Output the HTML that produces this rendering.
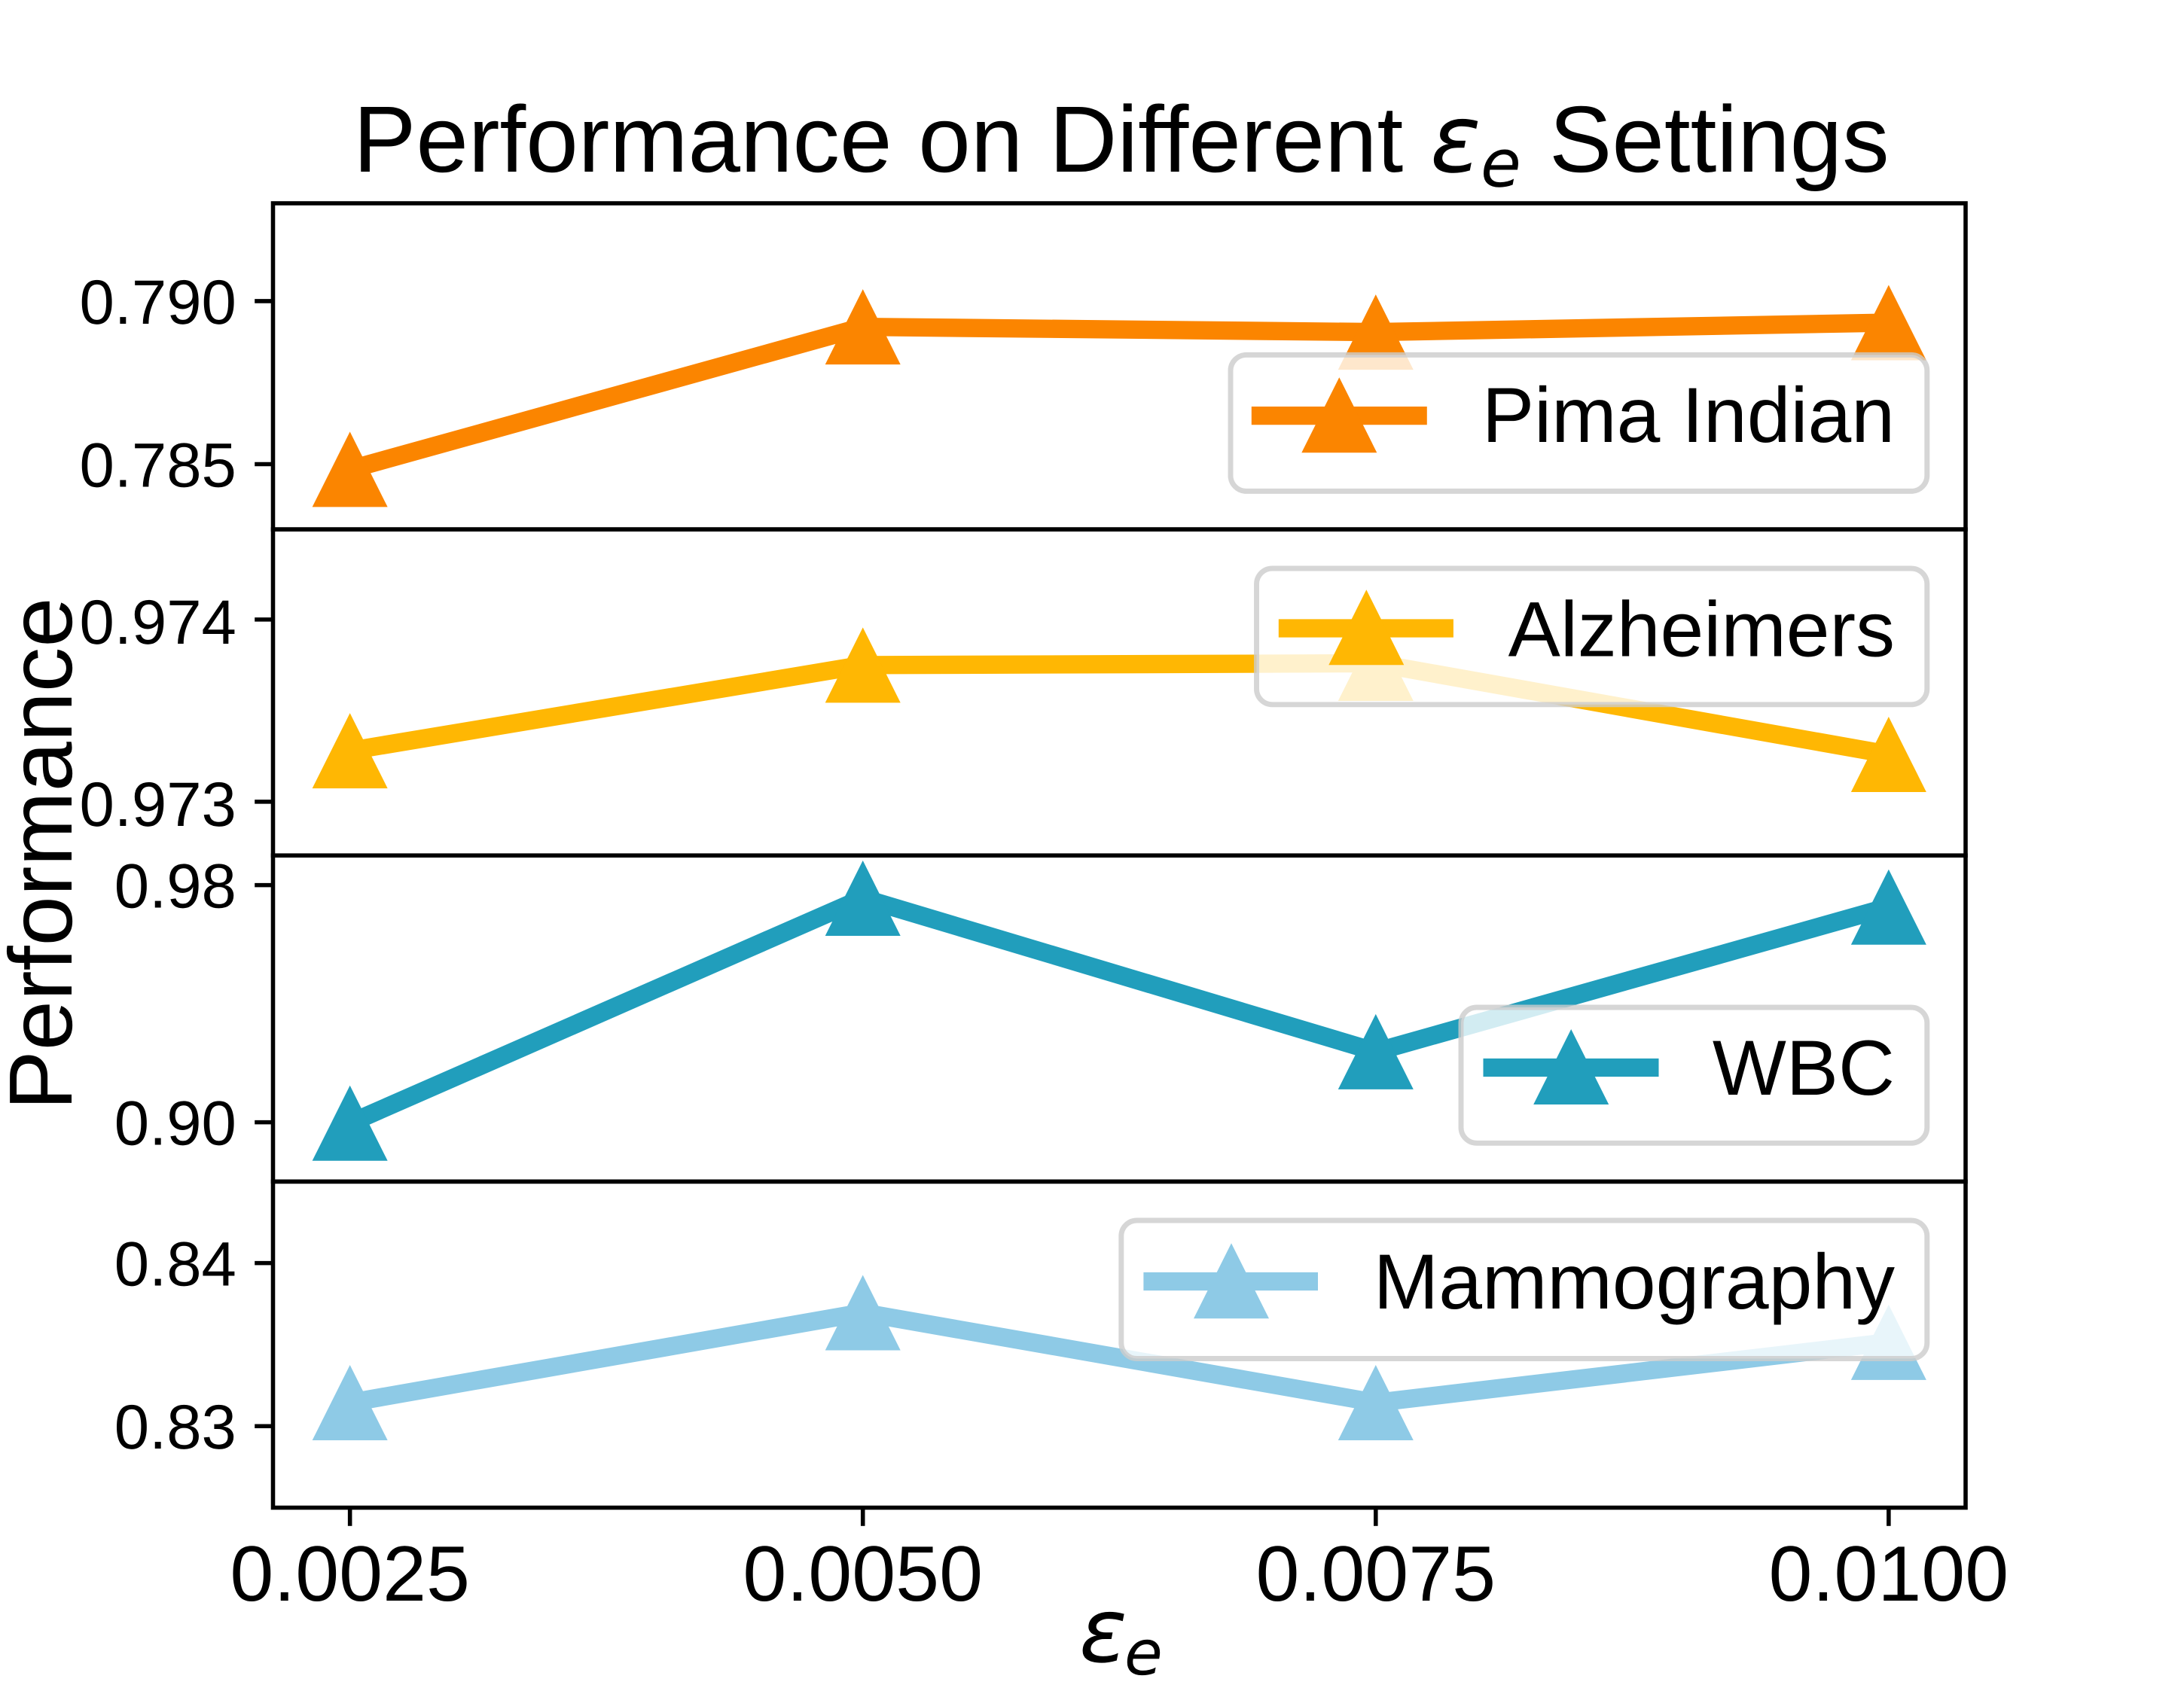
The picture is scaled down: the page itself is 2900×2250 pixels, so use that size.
<!DOCTYPE html>
<html lang="en">
<head>
<meta charset="utf-8">
<title>Performance on Different ε_e Settings</title>
<style>
html,body{margin:0;padding:0;background:#fff;width:2900px;height:2250px;overflow:hidden}
svg{display:block}
text{font-family:"Liberation Sans",sans-serif;fill:#000;text-rendering:geometricPrecision}
.math{font-family:"DejaVu Sans",sans-serif;font-style:italic}
</style>
</head>
<body>
<svg id="chart" xmlns="http://www.w3.org/2000/svg" width="2900" height="2250" viewBox="0 0 2900 2250">
  <rect x="0" y="0" width="2900" height="2250" fill="#fff"/>
  <g id="marks"></g>
  <g id="ticks"></g>
  <g fill="none" stroke="#000" stroke-width="5.56">
    <rect x="362.5" y="270" width="2247.5" height="433.125"/>
    <rect x="362.5" y="703.125" width="2247.5" height="433.125"/>
    <rect x="362.5" y="1136.25" width="2247.5" height="433.125"/>
    <rect x="362.5" y="1569.375" width="2247.5" height="433.125"/>
  </g>

  <g>
    <rect x="1634" y="471.4" width="924.8" height="181" rx="20.8" ry="20.8" fill="#fff" fill-opacity="0.8" stroke="#ccc" stroke-opacity="0.8" stroke-width="6.94"/>
    <line x1="1661.8" y1="552.1" x2="1894.8" y2="552.1" stroke="#fb8500" stroke-width="24.3"/>
    <path d="M1728.3 601.2L1778.3 501.2L1828.3 601.2Z" fill="#fb8500"/>
    <text x="2516" y="587.2" font-size="103.8" text-anchor="end">Pima Indian</text>
  </g>
  <g>
    <rect x="1668.5" y="755" width="890.3" height="180.8" rx="20.8" ry="20.8" fill="#fff" fill-opacity="0.8" stroke="#ccc" stroke-opacity="0.8" stroke-width="6.94"/>
    <line x1="1697.8" y1="834.5" x2="1929.9" y2="834.5" stroke="#ffb703" stroke-width="24.3"/>
    <path d="M1764.3 883.2L1814.3 783.2L1864.3 883.2Z" fill="#ffb703"/>
    <text x="2516" y="871.3" font-size="103.8" text-anchor="end">Alzheimers</text>
  </g>
  <g>
    <rect x="1940" y="1338" width="618.8" height="180.3" rx="20.8" ry="20.8" fill="#fff" fill-opacity="0.8" stroke="#ccc" stroke-opacity="0.8" stroke-width="6.94"/>
    <line x1="1969.5" y1="1418" x2="2202.5" y2="1418" stroke="#219ebc" stroke-width="24.3"/>
    <path d="M2036.2 1467L2086.2 1367L2136.2 1467Z" fill="#219ebc"/>
    <text x="2516" y="1453.8" font-size="103.8" text-anchor="end">WBC</text>
  </g>
  <g>
    <rect x="1488.8" y="1621" width="1070" height="183.5" rx="20.8" ry="20.8" fill="#fff" fill-opacity="0.8" stroke="#ccc" stroke-opacity="0.8" stroke-width="6.94"/>
    <line x1="1518.4" y1="1702" x2="1750" y2="1702" stroke="#8ecae6" stroke-width="24.3"/>
    <path d="M1585 1751.2L1635 1651.2L1685 1751.2Z" fill="#8ecae6"/>
    <text x="2516" y="1737.9" font-size="103.8" text-anchor="end">Mammography</text>
  </g>

  <g>
    <text x="469" y="228" font-size="125">Performance on Different</text>
    <text class="math" x="1899" y="228" font-size="125">ε</text>
    <text class="math" x="1966" y="247.5" font-size="87.5">e</text>
    <text x="2057" y="228" font-size="125">Settings</text>
  </g>
  <text transform="translate(95.2 1134) rotate(-90)" font-size="119" text-anchor="middle">Performance</text>
  <g>
    <text class="math" x="1433" y="2207" font-size="118">ε</text>
    <text class="math" x="1493" y="2224" font-size="82.6">e</text>
  </g>
</svg>
<script>
var categories = [0.0025, 0.005, 0.0075, 0.01];
var xTickLabels = ['0.0025', '0.0050', '0.0075', '0.0100'];

var pimaValues = [0.78484, 0.78921, 0.78905, 0.78934];
var alzheimersValues = [0.97328, 0.97375, 0.97376, 0.97326];
var wbcValues = [0.8997, 0.9756, 0.9238, 0.9726];
var mammographyValues = [0.83144, 0.83696, 0.83144, 0.83514];

var pimaTicks = [0.79, 0.785];
var alzheimersTicks = [0.974, 0.973];
var wbcTicks = [0.98, 0.9];
var mammographyTicks = [0.84, 0.83];

var pimaTickLabels = ['0.790', '0.785'];
var alzheimersTickLabels = ['0.974', '0.973'];
var wbcTickLabels = ['0.98', '0.90'];
var mammographyTickLabels = ['0.84', '0.83'];

var pimaLimits = [0.783, 0.793];
var alzheimersLimits = [0.972705, 0.974495];
var wbcLimits = [0.88, 0.99];
var mammographyLimits = [0.825, 0.845];

var SVG_NS = 'http://www.w3.org/2000/svg';
var marksLayer = document.getElementById('marks');
var ticksLayer = document.getElementById('ticks');
var plotLeft = 362.5, plotRight = 2610, plotTop = 270, panelHeight = 433.125;
var markerSize = 100, lineWidth = 24.3;
var xMin = categories[0], xMax = categories[categories.length - 1];
var xPad = (xMax - xMin) * 0.05;

function xScale(v) {
  return plotLeft + (v - (xMin - xPad)) / ((xMax + xPad) - (xMin - xPad)) * (plotRight - plotLeft);
}
function makeYScale(panelIndex, limits) {
  var top = plotTop + panelIndex * panelHeight;
  return function (v) {
    return top + (limits[1] - v) / (limits[1] - limits[0]) * panelHeight;
  };
}
function make(tag, attrs, parent) {
  var el = document.createElementNS(SVG_NS, tag);
  for (var k in attrs) el.setAttribute(k, attrs[k]);
  parent.appendChild(el);
  return el;
}

function drawPanel(panelIndex, color, values, limits, ticks, tickLabels, labelShift) {
  var y = makeYScale(panelIndex, limits);
  var pts = values.map(function (v, i) { return xScale(categories[i]) + ',' + y(v); }).join(' ');

  var line = make('polyline', {
    points: pts, fill: 'none', stroke: color, 'stroke-width': lineWidth,
    'stroke-linejoin': 'round', 'stroke-linecap': 'square'
  }, marksLayer);
  
  

  values.forEach(function (v, i) {
    var cx = xScale(categories[i]), cy = y(v), h = markerSize / 2;
    var m = make('path', {
      d: 'M' + (cx - h) + ' ' + (cy + h) + 'L' + cx + ' ' + (cy - h) + 'L' + (cx + h) + ' ' + (cy + h) + 'Z',
      fill: color
    }, marksLayer);
    
    
  });

  ticks.forEach(function (t, i) {
    var ty = y(t);
    var tick = make('line', {
      x1: plotLeft - 24.3, x2: plotLeft, y1: ty, y2: ty, stroke: '#000', 'stroke-width': 5.56
    }, ticksLayer);
    
    

    var label = make('text', {
      x: plotLeft - 48.6, y: ty + 30 + labelShift, 'font-size': 83.3, 'text-anchor': 'end'
    }, ticksLayer);
    
    
    label.textContent = tickLabels[i];
  });
}

drawPanel(0, '#fb8500', pimaValues, pimaLimits, pimaTicks, pimaTickLabels, 0);
drawPanel(1, '#ffb703', alzheimersValues, alzheimersLimits, alzheimersTicks, alzheimersTickLabels, 2);
drawPanel(2, '#219ebc', wbcValues, wbcLimits, wbcTicks, wbcTickLabels, 0);
drawPanel(3, '#8ecae6', mammographyValues, mammographyLimits, mammographyTicks, mammographyTickLabels, 0);

var axisBottom = plotTop + 4 * panelHeight;
categories.forEach(function (c, i) {
  var tx = xScale(c);
  var tick = make('line', {
    x1: tx, x2: tx, y1: axisBottom, y2: axisBottom + 24.3, stroke: '#000', 'stroke-width': 5.56
  }, ticksLayer);
  
  

  var label = make('text', {
    x: tx, y: 2126, 'font-size': 104.2, 'text-anchor': 'middle'
  }, ticksLayer);
  
  
  label.textContent = xTickLabels[i];
});
</script>
</body>
</html>
